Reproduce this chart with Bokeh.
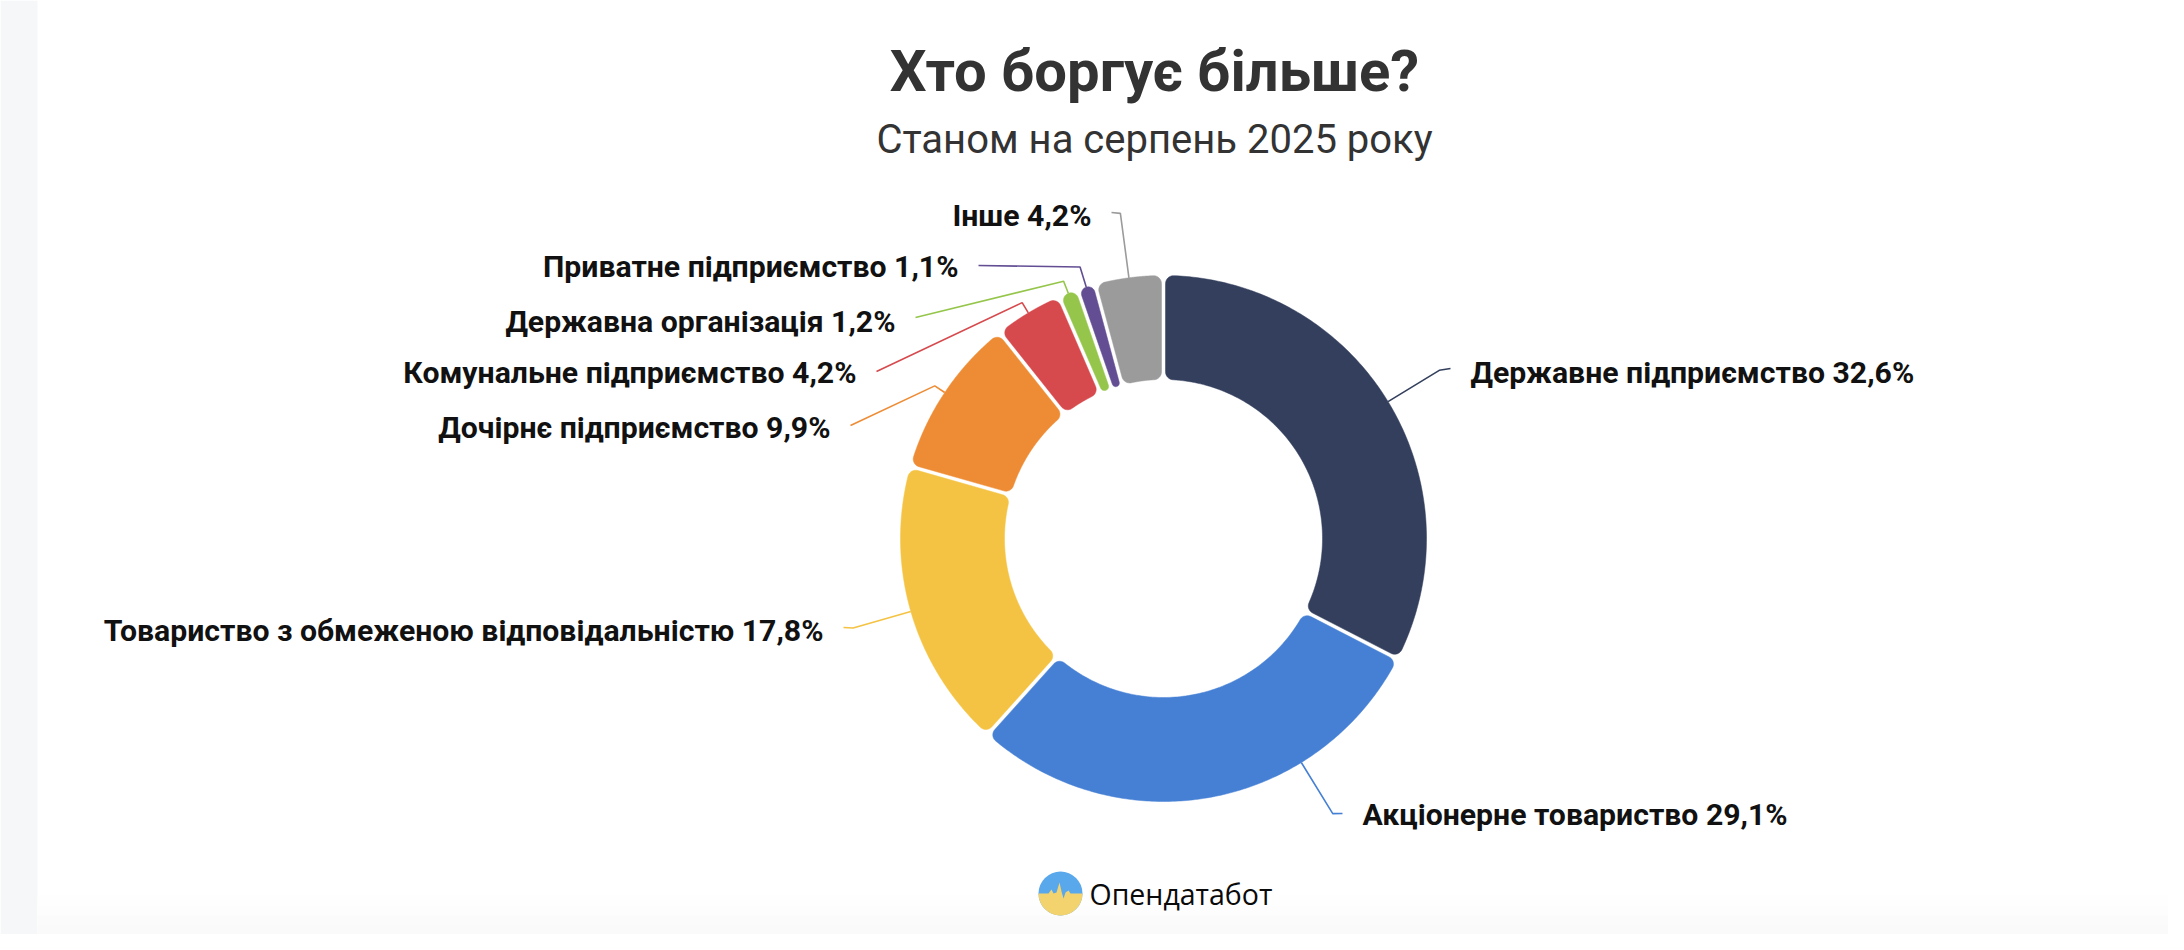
import math
import numpy as np
from bokeh.plotting import figure
from bokeh.models import Range1d
from bokeh.core.properties import value
from bokeh.embed import file_html
from bokeh.resources import INLINE

# ---------------- data ----------------
title = "Хто боргує більше?"
subtitle = "Станом на серпень 2025 року"
categories = [
    "Державне підприємство",
    "Акціонерне товариство",
    "Товариство з обмеженою відповідальністю",
    "Дочірнє підприємство",
    "Комунальне підприємство",
    "Державна організація",
    "Приватне підприємство",
    "Інше",
]
shares = [32.6, 29.1, 17.8, 9.9, 4.2, 1.2, 1.1, 4.2]
colors = ["#333f5d", "#4680d5", "#f5c343", "#ee8c35", "#d6494d", "#95c64b", "#634e94", "#9b9b9b"]
brand = "Опендатабот"

# ---------------- layout (image pixels) ----------------
W, H = 2184, 950
FW, FH = 2168, 934


def Y(y):
    return H - y


CX, CY = 1163, Y(538)
R_OUT, R_IN = 263, 159
GAP = 4
CORNER = 8

anchor_x = [1450, 1342, 843, 850, 876, 915, 978, 1111]
anchor_y = [368, 813, 627, 425, 371, 317, 265, 212]
knee_r = [323, 323, 323, 275, 275, 276, 284, 328]
conn_angle = [None, 148.4, None, None, None, None, None, None]
label_y = [372, 814, 630, 427, 372, 321, 266, 215]
side = [1, 1, -1, -1, -1, -1, -1, -1]
TEXT_GAP = 20

p = figure(width=FW, height=FH, output_backend="svg", toolbar_location=None,
           x_range=Range1d(0, FW), y_range=Range1d(H - FH, H), min_border=0,
           background_fill_color="white", border_fill_color="white")
p.axis.visible = False
p.grid.visible = False
p.outline_line_color = None

# page decoration: left strip and soft bottom fade
p.quad(left=[0], right=[37], bottom=[H - FH], top=[H], fill_color="#f6f7f9", line_color=None)
fade_top = [895, 905, 915, 925]
fade_col = ["#fefefe", "#fdfdfd", "#fbfbfb", "#fafafa"]
for ft, fc in zip(fade_top, fade_col):
    p.quad(left=[37], right=[FW], bottom=[H - FH], top=[Y(ft)], fill_color=fc, line_color=None)


def arc(cx, cy, r, t0, t1, n):
    t = np.linspace(t0, t1, n)
    return list(cx + r * np.cos(t)), list(cy + r * np.sin(t))


def sector(t_lo, t_hi):
    h = GAP / 2
    s = math.sin((t_hi - t_lo) / 2)
    co = max(0.5, min(CORNER, (R_OUT * s - h) / (1 + s)))
    ci = max(0.5, min(CORNER, (R_IN * s - h) / (1 - s)))
    do = math.asin(min(1, (co + h) / (R_OUT - co)))
    di = math.asin(min(1, (ci + h) / (R_IN + ci)))
    xs, ys = [], []

    def add(a):
        xs.extend(a[0])
        ys.extend(a[1])

    add(arc(CX, CY, R_OUT, t_lo + do, t_hi - do, 160))
    ax, ay = CX + (R_OUT - co) * math.cos(t_hi - do), CY + (R_OUT - co) * math.sin(t_hi - do)
    add(arc(ax, ay, co, t_hi - do, t_hi + math.pi / 2, 14))
    bx, by = CX + (R_IN + ci) * math.cos(t_hi - di), CY + (R_IN + ci) * math.sin(t_hi - di)
    add(arc(bx, by, ci, t_hi + math.pi / 2, t_hi + math.pi - di, 14))
    add(arc(CX, CY, R_IN, t_hi - di, t_lo + di, 100))
    dx, dy = CX + (R_IN + ci) * math.cos(t_lo + di), CY + (R_IN + ci) * math.sin(t_lo + di)
    add(arc(dx, dy, ci, t_lo + math.pi + di, t_lo + 1.5 * math.pi, 14))
    ex, ey = CX + (R_OUT - co) * math.cos(t_lo + do), CY + (R_OUT - co) * math.sin(t_lo + do)
    add(arc(ex, ey, co, t_lo - math.pi / 2, t_lo + do, 14))
    return xs, ys


total = sum(shares)
cum = np.concatenate([[0], np.cumsum(shares)]) / total
px, py = [], []
for i in range(len(shares)):
    start_deg = 360 * cum[i]
    end_deg = 360 * cum[i + 1]
    t_hi = math.radians(90 - start_deg)
    t_lo = math.radians(90 - end_deg)
    xs, ys = sector(t_lo, t_hi)
    px.append(xs)
    py.append(ys)
p.patches(px, py, fill_color=colors, line_color=colors, line_width=0.5)

# connectors
lx, ly = [], []
for i in range(len(shares)):
    deg = conn_angle[i] if conn_angle[i] is not None else 180 * (cum[i] + cum[i + 1])
    t = math.radians(90 - deg)
    x0, y0 = CX + R_OUT * math.cos(t), CY + R_OUT * math.sin(t)
    x1, y1 = CX + knee_r[i] * math.cos(t), CY + knee_r[i] * math.sin(t)
    lx.append([x0, x1, anchor_x[i]])
    ly.append([y0, y1, Y(anchor_y[i])])
p.multi_line(lx, ly, line_color=colors, line_width=1.6)

# labels
labels = [f"{c} {str(v).replace('.', ',')}%" for c, v in zip(categories, shares)]
for i, lab in enumerate(labels):
    p.text(x=[anchor_x[i] + side[i] * TEXT_GAP], y=[Y(label_y[i])], text=[lab],
           text_align="left" if side[i] > 0 else "right", text_baseline="middle",
           text_font=value("Roboto"), text_font_style="bold",
           text_font_size=value("30.2px"), text_color="#111111")

# title & subtitle
p.text(x=[1154], y=[Y(70)], text=[title], text_align="center", text_baseline="middle",
       text_font=value("Roboto"), text_font_style="bold", text_font_size=value("58px"),
       text_color="#333333")
p.text(x=[1154], y=[Y(139)], text=[subtitle], text_align="center", text_baseline="middle",
       text_font=value("Roboto"), text_font_size=value("40px"), text_color="#333333")

# brand logo
LX, LY, LR = 1060, Y(893), 22
p.circle(x=[LX], y=[LY], radius=LR, fill_color="#5aa8ec", line_color=None)
pulse_dx = [-22, -12, -9, -7, -4, -1, 1, 3, 5, 8, 10, 22]
pulse_dy = [0, 0, -4, 0, -1, -11, -2, 5, -1, -3, 0, 0]
bx = [LX + d for d in pulse_dx]
by = [LY - d for d in pulse_dy]
ax_, ay_ = arc(LX, LY, LR, 0, -math.pi, 40)
p.patch(bx + ax_, by + ay_, fill_color="#f2d36e", line_color=None)
p.text(x=[1089], y=[Y(893)], text=[brand], text_align="left", text_baseline="middle",
       text_font=value("Open Sans"), text_font_size=value("28.5px"), text_color="#0a0a0a")

open("out.html", "w").write(file_html(p, INLINE))
